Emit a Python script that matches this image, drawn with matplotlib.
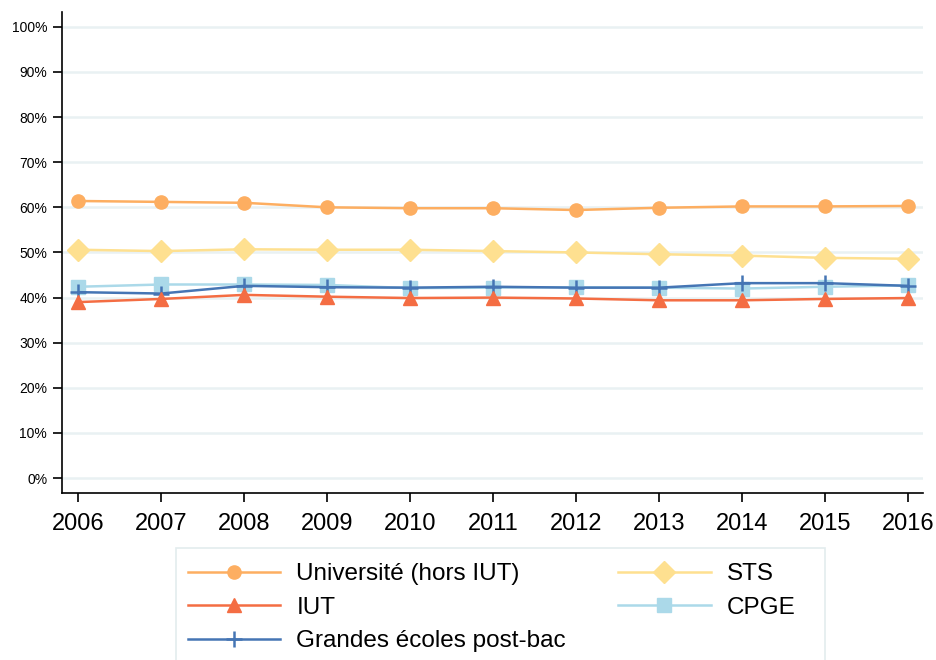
import numpy as np
import matplotlib
matplotlib.use('Agg')
import matplotlib.pyplot as plt
from matplotlib.patches import Rectangle

plt.rcParams['font.family'] = ['Liberation Sans', 'DejaVu Sans']

years = np.arange(2006, 2017)
universite = [61.4, 61.2, 61.0, 60.0, 59.8, 59.8, 59.4, 59.9, 60.2, 60.2, 60.3]
iut = [39.0, 39.7, 40.6, 40.2, 39.9, 40.0, 39.8, 39.4, 39.4, 39.7, 39.9]
grandes_ecoles = [41.2, 40.9, 42.6, 42.3, 42.2, 42.4, 42.2, 42.2, 43.2, 43.2, 42.6]
sts = [50.6, 50.3, 50.7, 50.6, 50.6, 50.3, 50.0, 49.6, 49.3, 48.8, 48.6]
cpge = [42.4, 42.9, 42.9, 42.8, 42.1, 42.2, 42.3, 42.2, 42.0, 42.4, 42.7]

W, H = 936, 660
fig = plt.figure(figsize=(W / 100, H / 100), dpi=100)
ax = fig.add_axes([0.066, 0.253, 0.92, 0.729])

# horizontal grid
for v in range(0, 101, 10):
    ax.axhline(v, color='#e9f1f3', lw=1.8, zorder=0)

h_univ, = ax.plot(years, universite, color='#fdae61', lw=1.8, marker='o', ms=9.5,
                  label='Université (hors IUT)')
h_sts, = ax.plot(years, sts, color='#fee090', lw=1.8, marker='D', ms=11,
                 label='STS')
h_cpge, = ax.plot(years, cpge, color='#abd9e9', lw=1.8, marker='s', ms=10,
                  label='CPGE')
h_ge, = ax.plot(years, grandes_ecoles, color='#4575b4', lw=1.8, marker='+', ms=11,
                mew=1.8, label='Grandes écoles post-bac')
h_iut, = ax.plot(years, iut, color='#f46d43', lw=1.8, marker='^', ms=10,
                 label='IUT')

ax.set_xlim(2005.8, 2016.18)
ax.set_ylim(-3.3, 103.3)
ax.set_xticks(years)
ax.set_xticklabels([str(y) for y in years], fontsize=17)
ax.set_yticks(range(0, 101, 10))
ax.set_yticklabels(['{}%'.format(v) for v in range(0, 101, 10)], fontsize=10)
ax.tick_params(axis='both', direction='out', length=6.5, width=1.2, color='black')
ax.tick_params(axis='x', pad=8)
ax.tick_params(axis='y', pad=4)
for s in ['top', 'right']:
    ax.spines[s].set_visible(False)
for s in ['left', 'bottom']:
    ax.spines[s].set_linewidth(1.2)

# legend box drawn by hand (wider than the entries, as in the original)
fig.patches.append(Rectangle((176 / W, -0.05), (825 - 176) / W, 0.05 + 1 - 548 / H,
                             transform=fig.transFigure, facecolor='white',
                             edgecolor='#e3ecee', lw=1.2, zorder=0))

leg = fig.legend([h_univ, h_iut, h_ge, h_sts, h_cpge],
                 ['Université (hors IUT)', 'IUT', 'Grandes écoles post-bac', 'STS', 'CPGE'],
                 ncol=2, loc='upper left', bbox_to_anchor=(188 / W, 1 - 563 / H),
                 fontsize=17.5, frameon=False, handlelength=3.8,
                 handletextpad=0.66, columnspacing=2.15, labelspacing=0.48,
                 borderpad=0, borderaxespad=0)

fig.savefig('out.png', dpi=100)
